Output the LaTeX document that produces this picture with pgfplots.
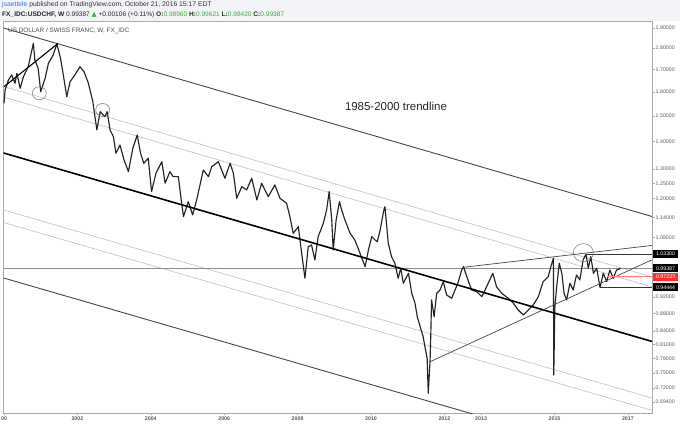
\documentclass[border=0pt]{standalone}
\usepackage{fontspec}
\setmainfont{Liberation Sans}
\newfontfamily\dejavu{DejaVu Sans}
\usepackage{pgfplots}
\pgfplotsset{compat=1.18}
\definecolor{hdrbg}{RGB}{242,244,247}
\definecolor{tvblue}{RGB}{46,120,210}
\definecolor{tvgreen}{RGB}{60,170,60}
\definecolor{ser}{RGB}{35,35,35}
\definecolor{lgray}{RGB}{192,192,192}
\definecolor{dgray}{RGB}{70,70,70}
\definecolor{tvred}{RGB}{255,50,50}
\definecolor{lred}{RGB}{255,130,130}
\definecolor{axgray}{RGB}{170,170,170}
\definecolor{lblgray}{RGB}{90,90,90}
\begin{document}
\begin{tikzpicture}[x=1bp,y=1bp]
\path[use as bounding box] (0,0) rectangle (680,427);
\fill[white] (0,0) rectangle (680,427);
\fill[hdrbg] (0,406) rectangle (680,427);
\node[anchor=west, inner sep=0, font=\fontsize{6.8}{8}\selectfont, text=black!80] at (2,422) {\textcolor{tvblue}{jsaettele} published on TradingView.com, October 21, 2016 15:17 EDT};
\node[anchor=west, inner sep=0, font=\fontsize{6.6}{8}\selectfont, text=black!85] at (2,412.5) {\textbf{FX\_IDC:USDCHF, W} 0.99387 {\dejavu\textcolor{tvgreen}{▲}} +0.00106 (+0.11\%) \textbf{O:}\textcolor{tvgreen}{0.98960} \textbf{H:}\textcolor{tvgreen}{0.99621} \textbf{L:}\textcolor{tvgreen}{0.98420} \textbf{C:}\textcolor{tvgreen}{0.99387}};
\node[anchor=west, inner sep=0, font=\fontsize{6.4}{7}\selectfont, text=black!70] at (8,396) {US DOLLAR / SWISS FRANC, W, FX\_IDC};
\begin{axis}[
  at={(3.5bp,14bp)}, anchor=south west, scale only axis,
  width=648.5bp, height=392bp,
  xmin=1999.986, xmax=2017.657,
  ymode=log, ymin=0.6732, ymax=1.9365,
  axis line style={draw=axgray, line width=0.6pt},
  ytick pos=right, xtick pos=bottom, tick align=outside,
  major tick length=2.5bp,
  tick style={draw=axgray, line width=0.4pt},
  yminorticks=false, xminorticks=false,
  ytick={0.694,0.72,0.75,0.78,0.81,0.84,0.88,0.92,1.08,1.14,1.20,1.25,1.30,1.40,1.50,1.60,1.70,1.80,1.90},
  yticklabels={0.69400,0.72000,0.75000,0.78000,0.81000,0.84000,0.88000,0.92000,1.08000,1.14000,1.20000,1.25000,1.30000,1.40000,1.50000,1.60000,1.70000,1.80000,1.90000},
  xtick={2000,2002,2004,2006,2008,2010,2012,2013,2015,2017},
  xticklabels={00,2002,2004,2006,2008,2010,2012,2013,2015,2017},
  yticklabel style={font=\fontsize{5.3}{6}\selectfont, text=lblgray, inner sep=1bp},
  xticklabel style={font=\fontsize{5.3}{6}\selectfont\bfseries, text=lblgray, inner sep=1.5bp},
  clip mode=individual,
]
% channel lines (parallel)
\addplot[lgray, line width=0.6pt] coordinates {(1999.986,1.6232) (2017.657,0.9713)};
\addplot[lgray, line width=0.6pt] coordinates {(1999.986,1.5778) (2017.657,0.9455)};
\addplot[lgray, line width=0.6pt] coordinates {(1999.986,1.1636) (2017.657,0.7010)};
\addplot[lgray, line width=0.6pt] coordinates {(1999.986,1.1250) (2017.657,0.6778)};
\addplot[dgray, line width=0.9pt] coordinates {(1999.986,1.9003) (2017.657,1.1433)};
\addplot[dgray, line width=0.9pt] coordinates {(1999.986,0.9687) (2017.657,0.5836)};
% horizontal last price line
\addplot[black!45, line width=0.6pt] coordinates {(1999.986,0.99387) (2017.657,0.99387)};
% series
\addplot[ser, line width=1.15pt, line join=round] coordinates {
(2000.00,1.5513) (2000.03,1.6079) (2000.12,1.6519) (2000.21,1.6743) (2000.30,1.6372)
(2000.35,1.6819) (2000.44,1.6153) (2000.53,1.6666) (2000.66,1.7121) (2000.80,1.8236)
(2000.84,1.7434) (2000.93,1.7048) (2001.00,1.6006) (2001.12,1.6594) (2001.21,1.7279)
(2001.34,1.7670) (2001.44,1.8202) (2001.54,1.7514) (2001.63,1.6594) (2001.71,1.5792)
(2001.80,1.6443) (2001.93,1.6743) (2002.07,1.7121) (2002.18,1.6892) (2002.30,1.6372)
(2002.42,1.5580) (2002.53,1.4436) (2002.62,1.5165) (2002.75,1.4963) (2002.81,1.5165)
(2002.89,1.4436) (2002.98,1.4178) (2003.05,1.3557) (2003.16,1.3864) (2003.27,1.3315)
(2003.39,1.2901) (2003.51,1.3741) (2003.63,1.4242) (2003.72,1.3557) (2003.81,1.3197)
(2003.93,1.3375) (2004.02,1.2224) (2004.14,1.2845) (2004.30,1.3254) (2004.39,1.2504)
(2004.52,1.2901) (2004.61,1.2728) (2004.75,1.2728) (2004.84,1.1847) (2004.89,1.1427)
(2005.02,1.1899) (2005.14,1.1480) (2005.25,1.1953) (2005.43,1.2960) (2005.57,1.2728)
(2005.66,1.3076) (2005.84,1.3254) (2006.02,1.2673) (2006.16,1.3197) (2006.25,1.2845)
(2006.34,1.2008) (2006.48,1.2390) (2006.61,1.2280) (2006.75,1.2673) (2006.89,1.1953)
(2007.02,1.2504) (2007.20,1.2060) (2007.38,1.2447) (2007.52,1.2008) (2007.70,1.1847)
(2007.79,1.1427) (2007.88,1.0927) (2008.02,1.1124) (2008.11,1.0354) (2008.20,0.9679)
(2008.29,1.0540) (2008.38,1.0588) (2008.47,1.0169) (2008.56,1.0828) (2008.70,1.1226)
(2008.79,1.1636) (2008.86,1.2224) (2008.93,1.1326) (2008.97,1.0447) (2009.05,1.1326)
(2009.14,1.1899) (2009.20,1.1636) (2009.29,1.1326) (2009.43,1.0927) (2009.56,1.0732)
(2009.70,1.0354) (2009.84,0.9987) (2009.93,1.0447) (2010.02,1.0828) (2010.11,1.0732)
(2010.17,1.0682) (2010.25,1.1025) (2010.34,1.1582) (2010.38,1.1740) (2010.47,1.0637)
(2010.56,1.0259) (2010.65,1.0079) (2010.74,0.9679) (2010.81,0.9944) (2010.88,0.9550)
(2011.02,0.9810) (2011.11,0.9296) (2011.20,0.9048) (2011.26,0.8727) (2011.34,0.8495)
(2011.42,0.8269) (2011.47,0.8049) (2011.53,0.7802) (2011.56,0.7099) (2011.61,0.7766)
(2011.63,0.8345) (2011.65,0.9129) (2011.72,0.8727) (2011.79,0.9296) (2011.88,0.9378)
(2011.97,0.9591) (2012.06,0.9253) (2012.20,0.9171) (2012.29,0.9378) (2012.38,0.9591)
(2012.47,0.9898) (2012.52,0.9987) (2012.61,0.9721) (2012.74,0.9378) (2012.88,0.9336)
(2013.02,0.9211) (2013.15,0.9462) (2013.32,0.9810) (2013.42,0.9462) (2013.56,0.9296)
(2013.74,0.9171) (2013.88,0.9048) (2014.01,0.8886) (2014.15,0.8768) (2014.29,0.8886)
(2014.42,0.9007) (2014.56,0.9211) (2014.69,0.9591) (2014.83,0.9721) (2014.90,0.9987)
(2014.97,1.0215) (2014.98,0.7458) (2015.01,0.8966) (2015.06,0.9462) (2015.13,1.0079)
(2015.20,0.9810) (2015.26,0.9296) (2015.33,0.9129) (2015.42,0.9550) (2015.51,0.9378)
(2015.60,0.9766) (2015.69,0.9635) (2015.78,1.0169) (2015.86,1.0330) (2015.92,0.9944)
(2015.99,1.0259) (2016.06,0.9810) (2016.15,0.9944) (2016.24,0.9444) (2016.33,0.9810)
(2016.42,0.9591) (2016.51,0.9898) (2016.60,0.9679) (2016.69,0.9898) (2016.80,0.99387)
};
% main 1985-2000 trendline
\addplot[black, line width=1.6pt] coordinates {(1999.986,1.3568) (2017.657,0.8163)};
% rising line 2000-2001
\addplot[black, line width=1.1pt] coordinates {(2000.0,1.6223) (2001.47,1.8227)};
% triangle lines
\addplot[dgray, line width=0.7pt] coordinates {(2011.61,0.7731) (2017.649,1.0169)};
\addplot[dgray, line width=0.7pt] coordinates {(2012.52,0.9970) (2017.649,1.0574)};
% horizontal levels
\addplot[black!80, line width=0.7pt] coordinates {(2015.88,1.0330) (2017.657,1.0330)};
\addplot[black!80, line width=0.7pt] coordinates {(2016.24,0.94444) (2017.657,0.94444)};
\addplot[lred, line width=1pt] coordinates {(2016.42,0.97233) (2017.657,0.97233)};
% circles
\draw[black!55, line width=0.5pt] (axis cs:2000.962,1.5937) ellipse [x radius=7bp, y radius=6.5bp];
\draw[black!55, line width=0.5pt] (axis cs:2002.689,1.5235) ellipse [x radius=7bp, y radius=6.5bp];
\draw[black!55, line width=0.5pt] (axis cs:2015.785,1.0371) ellipse [x radius=10bp, y radius=9bp];
% annotation
\node[font=\fontsize{11.5}{13}\selectfont, text=black!85] at (axis cs:2010.68,1.540) {1985-2000 trendline};
% price boxes
\node[fill=black, text=white, anchor=west, inner sep=0.8bp, minimum height=8bp, minimum width=25bp, font=\fontsize{5.3}{6}\selectfont] at (axis cs:2017.68,1.0330) {1.03300};
\node[fill=black, text=white, anchor=west, inner sep=0.8bp, minimum height=8bp, minimum width=25bp, font=\fontsize{5.3}{6}\selectfont] at (axis cs:2017.68,0.99387) {0.99387};
\node[fill=tvred, text=white, anchor=west, inner sep=0.8bp, minimum height=8bp, minimum width=25bp, font=\fontsize{5.3}{6}\selectfont] at (axis cs:2017.68,0.97233) {0.97233};
\node[fill=black, text=white, anchor=west, inner sep=0.8bp, minimum height=8bp, minimum width=25bp, font=\fontsize{5.3}{6}\selectfont] at (axis cs:2017.68,0.94444) {0.94444};
\end{axis}
\end{tikzpicture}
\end{document}
